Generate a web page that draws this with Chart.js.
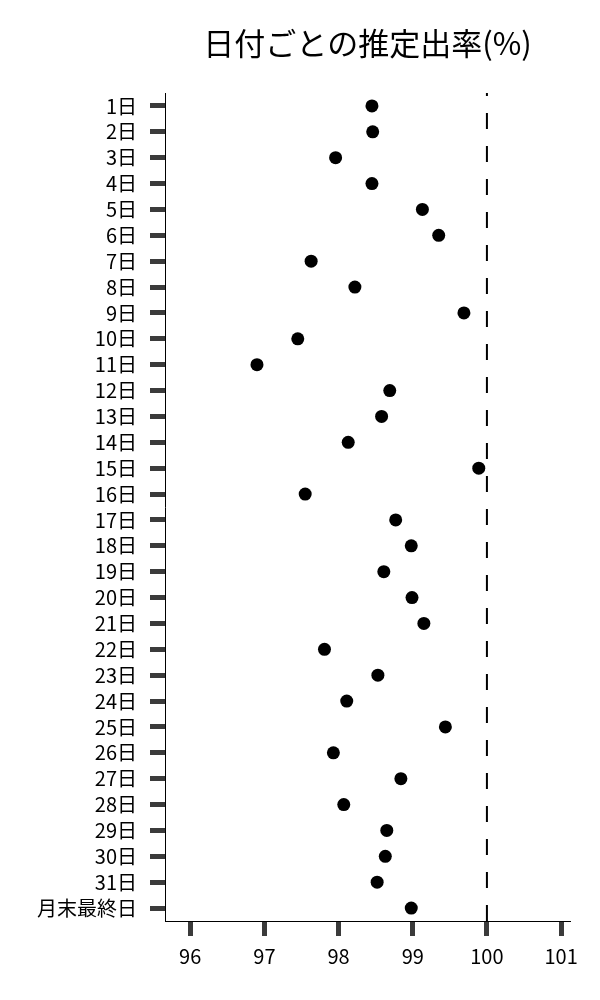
<!DOCTYPE html>
<html>
<head>
<meta charset="utf-8">
<script src="https://cdn.jsdelivr.net/npm/chart.js@4"></script>
<style>
  body { margin: 0; background: #fff; }
</style>
</head>
<body>
<canvas id="rateChart" width="600" height="1000"></canvas>
<script>
// 日付ごとの推定出率 (%)
const days = ['1日', '2日', '3日', '4日', '5日', '6日', '7日', '8日', '9日', '10日',
  '11日', '12日', '13日', '14日', '15日', '16日', '17日', '18日', '19日', '20日',
  '21日', '22日', '23日', '24日', '25日', '26日', '27日', '28日', '29日', '30日',
  '31日', '月末最終日'];
const rates = [98.45, 98.46, 97.96, 98.45, 99.13, 99.35, 97.63, 98.22, 99.69, 97.45,
  96.90, 98.69, 98.58, 98.13, 99.89, 97.55, 98.77, 98.98, 98.61, 98.99,
  99.15, 97.81, 98.53, 98.11, 99.44, 97.93, 98.84, 98.07, 98.65, 98.63,
  98.52, 98.98];
const xTicks = [96, 97, 98, 99, 100, 101];
const refLine = 100;
const titleText = '日付ごとの推定出率(%)';

const FONT = "'Noto Sans CJK JP', 'Noto Sans', sans-serif";
Chart.defaults.font.family = FONT;
Chart.defaults.color = '#000';

// タイトル（描画領域の中央に合わせる）
const titlePlugin = {
  id: 'plotTitle',
  afterDraw(chart) {
    const { ctx, chartArea } = chart;
    ctx.save();
    ctx.font = '31px ' + FONT;
    ctx.fillStyle = '#000';
    ctx.textAlign = 'center';
    ctx.textBaseline = 'middle';
    ctx.fillText(titleText, (chartArea.left + chartArea.right) / 2, 43);
    ctx.restore();
  }
};

// 100% の破線
const refLinePlugin = {
  id: 'refLine',
  afterDatasetsDraw(chart) {
    const { ctx, chartArea, scales } = chart;
    const x = scales.x.getPixelForValue(refLine);
    ctx.save();
    ctx.strokeStyle = '#000';
    ctx.lineWidth = 2;
    ctx.setLineDash([16, 17]);
    ctx.beginPath();
    ctx.moveTo(x, chartArea.bottom);
    ctx.lineTo(x, chartArea.top);
    ctx.stroke();
    ctx.restore();
  }
};

const ctx = document.getElementById('rateChart').getContext('2d');
new Chart(ctx, {
  type: 'line',
  data: {
    labels: days,
    datasets: [{
      label: '推定出率',
      data: rates,
      showLine: false,
      pointRadius: 6.5,
      pointBackgroundColor: '#000',
      pointBorderWidth: 0,
      clip: false
    }]
  },
  options: {
    indexAxis: 'y',
    responsive: false,
    animation: false,
    devicePixelRatio: 1,
    layout: { padding: { top: 93, right: 30, bottom: 0, left: 0 } },
    plugins: {
      legend: { display: false },
      tooltip: { enabled: false }
    },
    scales: {
      x: {
        type: 'linear',
        position: 'bottom',
        min: 95.66,
        max: 101.12,
        afterBuildTicks: scale => { scale.ticks = xTicks.map(v => ({ value: v })); },
        afterFit: scale => { scale.height = 79; },
        border: { color: '#000', width: 1 },
        grid: { drawOnChartArea: false, tickLength: 15, tickWidth: 5, tickColor: '#3b3b3b' },
        ticks: { font: { size: 20 }, padding: 8, maxRotation: 0 }
      },
      y: {
        type: 'category',
        position: 'left',
        offset: true,
        afterFit: scale => { scale.width = 165; },
        border: { color: '#000', width: 1 },
        grid: { offset: false, drawOnChartArea: false, tickLength: 15, tickWidth: 5, tickColor: '#3b3b3b' },
        ticks: { font: { size: 20 }, padding: 13, autoSkip: false }
      }
    }
  },
  plugins: [titlePlugin, refLinePlugin]
});
</script>
</body>
</html>
